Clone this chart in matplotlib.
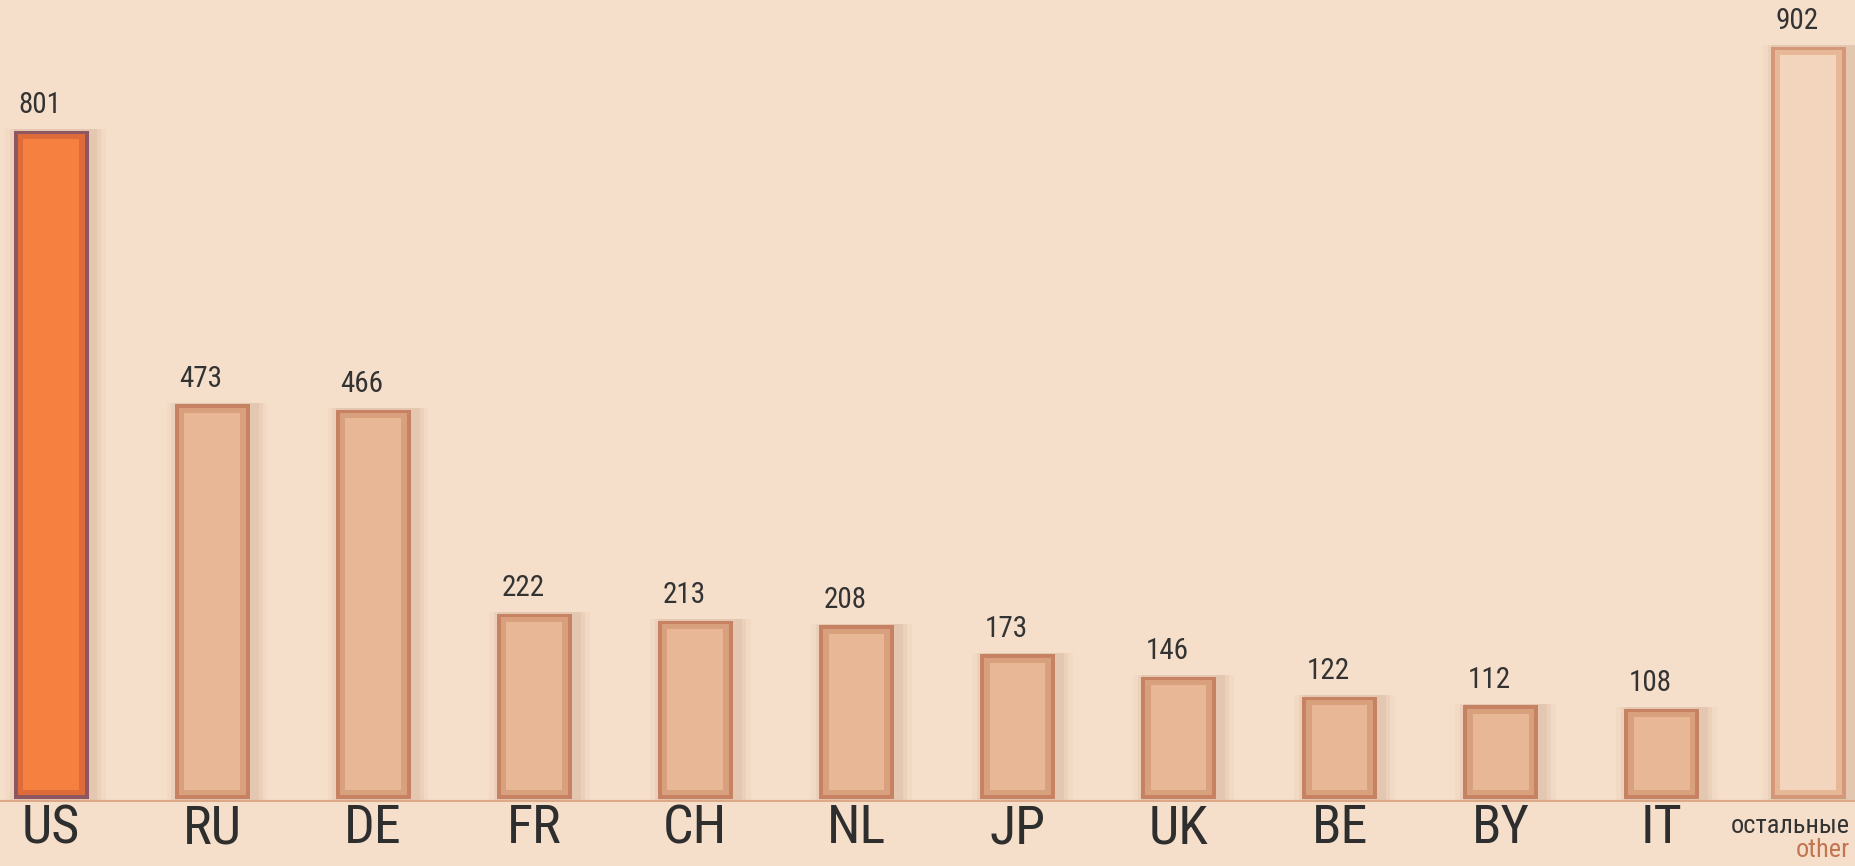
import matplotlib.pyplot as plt

countries = ["US", "RU", "DE", "FR", "CH", "NL", "JP", "UK", "BE", "BY", "IT"]
counts = [801, 473, 466, 222, 213, 208, 173, 146, 122, 112, 108]
other_label_ru = "остальные"
other_label_en = "other"
other_count = 902

bg = "#F5DFCA"
fnt = ["Roboto Condensed", "Liberation Sans Narrow", "DejaVu Sans"]

fig = plt.figure(figsize=(18.55, 8.66), dpi=100, facecolor=bg)
ax = fig.add_axes([0, 0.074, 1, 0.926])
ax.set_facecolor(bg)

xs = list(range(len(countries)))
x_other = 10.91
w = 0.466

def draw_bar(x, h, face, mid, edge):
    # soft shadow, heavier to the right
    for k, a in [(0.16, 0.04), (0.10, 0.06), (0.05, 0.08)]:
        ax.bar(x + 0.03, h + 4, width=w + k, bottom=-2, color="#9A5A3A",
               alpha=a, linewidth=0, zorder=1)
    # bevelled look: dark rim, softer middle band, light core
    ax.bar(x, h, width=w, color=edge, linewidth=0, zorder=2)
    ax.bar(x, h - 8, width=w - 0.05, bottom=4, color=mid, linewidth=0, zorder=2)
    ax.bar(x, h - 20, width=w - 0.12, bottom=10, color=face, linewidth=0, zorder=2)

for i, (x, v) in enumerate(zip(xs, counts)):
    if i == 0:
        draw_bar(x, v, "#F6803F", "#DE6C3A", "#8E5660")
    else:
        draw_bar(x, v, "#E8B796", "#D9A07E", "#C78263")
    ax.text(x - w / 2 + 0.03, v + 14, str(v), ha="left", va="bottom",
            fontsize=21, color="#333333", family=fnt, fontstretch="condensed",
            zorder=3)

draw_bar(x_other, other_count, "#F3D4BC", "#E6B898", "#D49878")
ax.text(x_other - w / 2 + 0.03, other_count + 14, str(other_count), ha="left",
        va="bottom", fontsize=21, color="#333333", family=fnt,
        fontstretch="condensed", zorder=3)

ax.axhline(-4, color="#DDA888", linewidth=3, zorder=4)

ax.set_xlim(-0.317, 11.2)
ax.set_ylim(-4, 958)
ax.set_xticks(xs)
ax.set_xticklabels(countries, fontsize=39, color="#2E2E2E", family=fnt,
                   fontstretch="condensed", weight="normal")
ax.tick_params(axis="x", length=0, pad=1)
ax.set_yticks([])
for s in ax.spines.values():
    s.set_visible(False)

fig.text(0.997, 0.038, other_label_ru, ha="right", va="baseline", fontsize=19,
         color="#333333", family=fnt, fontstretch="condensed")
fig.text(0.997, 0.010, other_label_en, ha="right", va="baseline", fontsize=19,
         color="#C27550", family=fnt, fontstretch="condensed")

fig.savefig("out.png", dpi=100, facecolor=bg)
